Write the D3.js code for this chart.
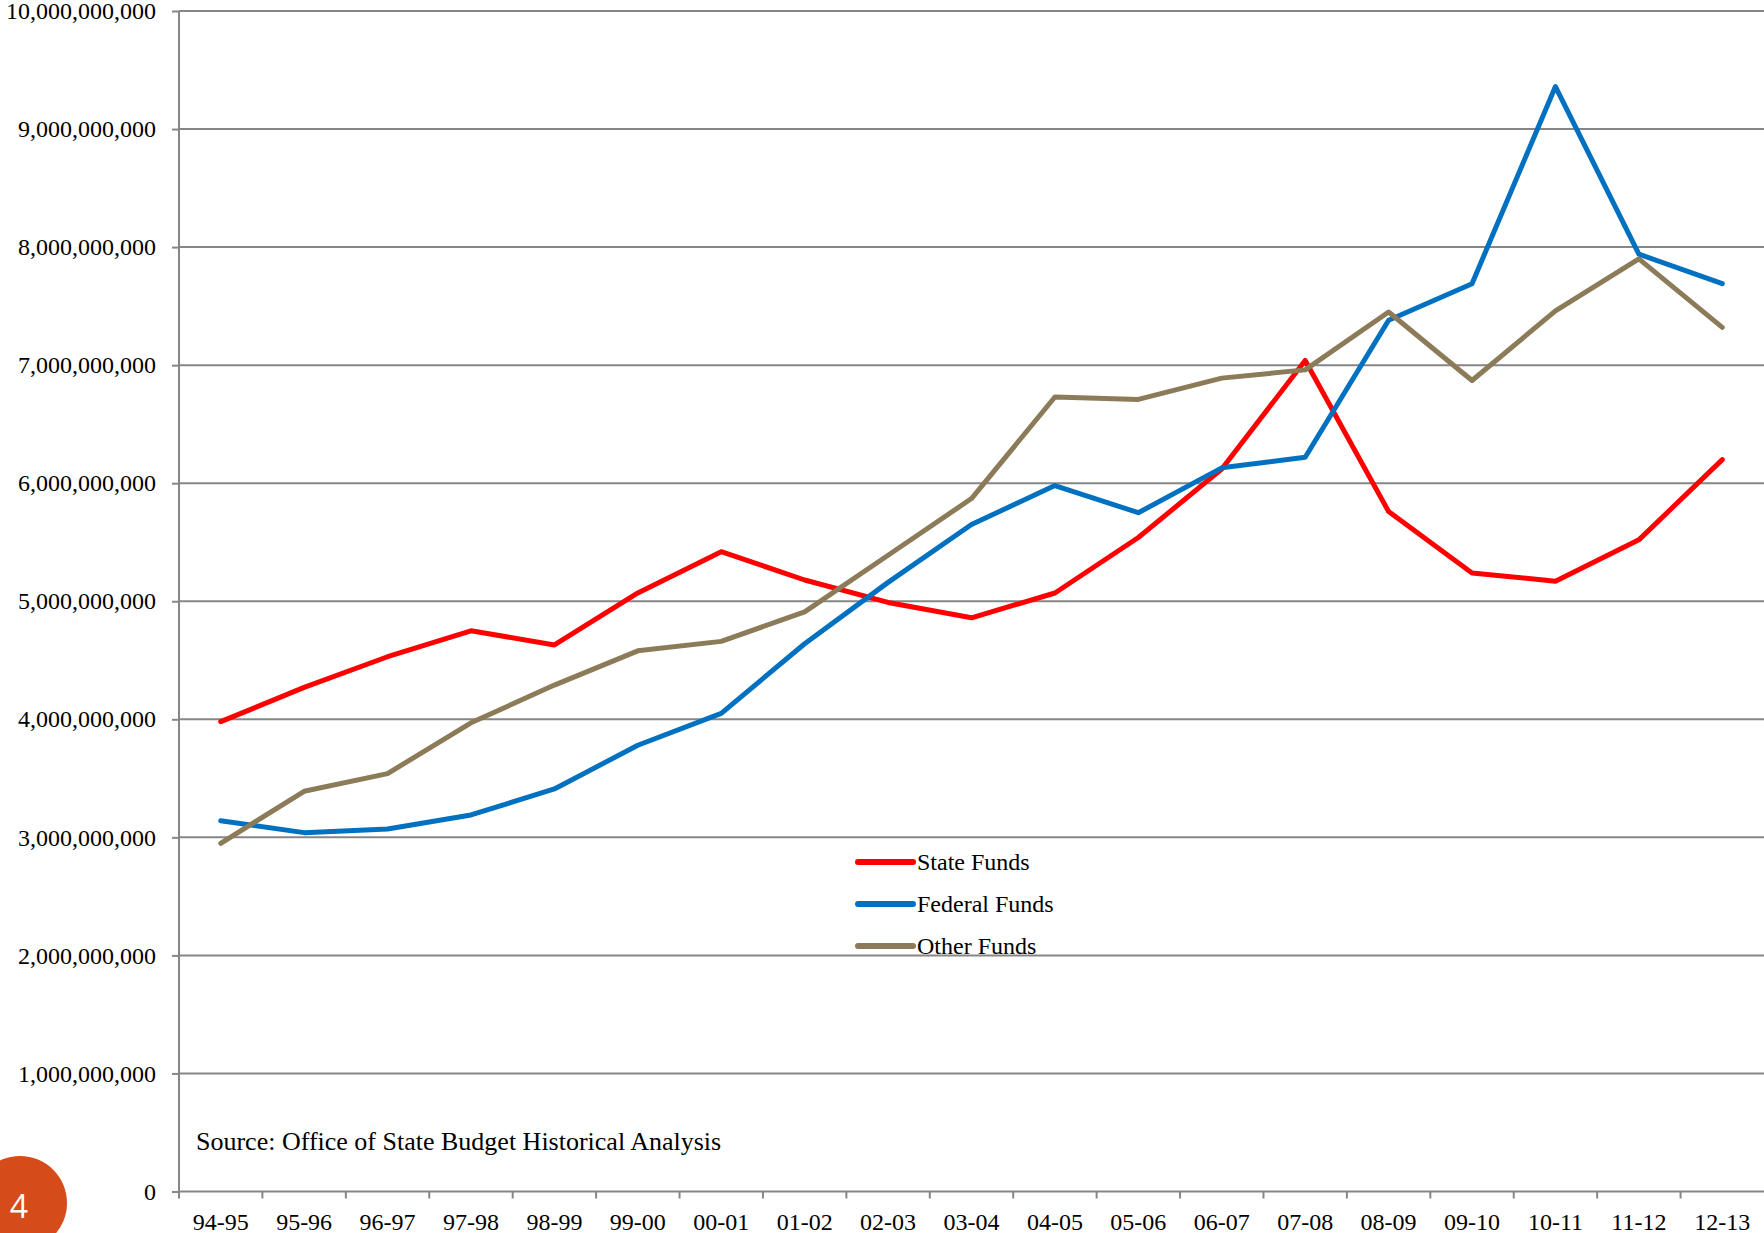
<!DOCTYPE html>
<html>
<head>
<meta charset="utf-8">
<script src="https://cdnjs.cloudflare.com/ajax/libs/d3/7.8.5/d3.min.js"></script>
<style>
  html, body { margin: 0; padding: 0; background: #fff; }
  svg { display: block; }
</style>
</head>
<body>
<svg id="chart" width="1764" height="1233"></svg>
<script>
// fiscal years on the x axis
var years = ["94-95", "95-96", "96-97", "97-98", "98-99", "99-00", "00-01", "01-02", "02-03",
             "03-04", "04-05", "05-06", "06-07", "07-08", "08-09", "09-10", "10-11", "11-12", "12-13"];

// values in billions
var stateFunds   = [3.98, 4.27, 4.53, 4.75, 4.63, 5.07, 5.42, 5.18, 4.99, 4.86, 5.07, 5.54, 6.12, 7.04, 5.76, 5.24, 5.17, 5.52, 6.20];
var federalFunds = [3.14, 3.04, 3.07, 3.19, 3.41, 3.78, 4.05, 4.64, 5.16, 5.65, 5.98, 5.75, 6.13, 6.22, 7.38, 7.69, 9.36, 7.94, 7.69];
var otherFunds   = [2.95, 3.39, 3.54, 3.97, 4.29, 4.58, 4.66, 4.91, 5.39, 5.87, 6.73, 6.71, 6.89, 6.96, 7.45, 6.87, 7.46, 7.90, 7.32];

var seriesNames  = ["State Funds", "Federal Funds", "Other Funds"];
var seriesColors = ["#ff0000", "#0070c0", "#8c7b58"];
var yTicks = [0, 1e9, 2e9, 3e9, 4e9, 5e9, 6e9, 7e9, 8e9, 9e9, 1e10];

var series = [stateFunds, federalFunds, otherFunds].map(function(vals, i) {
	return { name: seriesNames[i], color: seriesColors[i],
	         values: vals.map(function(v, j) { return { year: years[j], value: v * 1e9 }; }) };
});

// Plot area (named plotX0.. because "top" clashes with window.top)
var plotX0 = 179, plotX1 = 1764, plotY0 = 11, plotY1 = 1191.5;
var font = "'Liberation Serif', 'Times New Roman', serif";
var gridColor = "#868686";

var svg = d3.select("#chart");

var x = d3.scaleBand().domain(years).range([plotX0, plotX1]).padding(0);
var y = d3.scaleLinear().domain([0, 1e10]).range([plotY1, plotY0]);

// horizontal gridlines
svg.append("g")
	.selectAll("line")
	.data(yTicks.slice(1))
	.enter().append("line")
	.attr("x1", plotX0).attr("x2", plotX1)
	.attr("y1", function(d) { return y(d); })
	.attr("y2", function(d) { return y(d); })
	.attr("stroke", gridColor)
	.attr("stroke-width", 2);

// y axis
var yAxis = svg.append("g")
	.attr("transform", "translate(" + plotX0 + ",0)")
	.call(d3.axisLeft(y).tickValues(yTicks).tickSize(7).tickPadding(16).tickFormat(d3.format(",")));
yAxis.select(".domain").remove();
yAxis.selectAll(".tick line").attr("stroke", gridColor).attr("stroke-width", 2);
yAxis.selectAll("text")
	.attr("font-family", font).attr("font-size", 24).attr("fill", "#000");

svg.append("line")
	.attr("x1", plotX0).attr("x2", plotX0)
	.attr("y1", plotY0).attr("y2", plotY1 + 7)
	.attr("stroke", gridColor).attr("stroke-width", 2);

// x axis: labels centred, ticks on band boundaries
var xAxis = svg.append("g")
	.attr("transform", "translate(0," + plotY1 + ")")
	.call(d3.axisBottom(x).tickSize(0).tickPadding(21));
xAxis.select(".domain").remove();
xAxis.selectAll("text")
	.attr("font-family", font).attr("font-size", 24).attr("fill", "#000");

svg.append("line")
	.attr("x1", plotX0).attr("x2", plotX1)
	.attr("y1", plotY1).attr("y2", plotY1)
	.attr("stroke", gridColor).attr("stroke-width", 2);

svg.append("g")
	.selectAll("line")
	.data(years.slice(1))
	.enter().append("line")
	.attr("x1", function(d) { return x(d); })
	.attr("x2", function(d) { return x(d); })
	.attr("y1", plotY1).attr("y2", plotY1 + 7)
	.attr("stroke", gridColor).attr("stroke-width", 2);

// series lines
var line = d3.line()
	.x(function(d) { return x(d.year) + x.bandwidth() / 2; })
	.y(function(d) { return y(d.value); });

svg.append("g")
	.selectAll("path")
	.data(series)
	.enter().append("path")
	.attr("d", function(d) { return line(d.values); })
	.attr("fill", "none")
	.attr("stroke", function(d) { return d.color; })
	.attr("stroke-width", 5)
	.attr("stroke-linecap", "round")
	.attr("stroke-linejoin", "round");

// legend
var legend = svg.append("g").attr("transform", "translate(858,862)");
var item = legend.selectAll("g")
	.data(series)
	.enter().append("g")
	.attr("transform", function(d, i) { return "translate(0," + (i * 42) + ")"; });
item.append("line")
	.attr("x1", 0).attr("x2", 55)
	.attr("stroke", function(d) { return d.color; })
	.attr("stroke-width", 6)
	.attr("stroke-linecap", "round");
item.append("text")
	.attr("x", 59).attr("dy", "0.33em")
	.attr("font-family", font).attr("font-size", 24)
	.text(function(d) { return d.name; });

// source note
svg.append("text")
	.attr("x", 196).attr("y", 1150)
	.attr("font-family", font).attr("font-size", 26)
	.text("Source: Office of State Budget Historical Analysis");

// page number badge
svg.append("circle")
	.attr("cx", 20).attr("cy", 1203).attr("r", 47)
	.attr("fill", "#d54b1a");
svg.append("text")
	.attr("x", 19).attr("y", 1207).attr("dy", "0.35em")
	.attr("text-anchor", "middle")
	.attr("font-family", "'Open Sans', 'DejaVu Sans', sans-serif").attr("font-size", 32)
	.attr("fill", "#fff")
	.text("4");
</script>
</body>
</html>
